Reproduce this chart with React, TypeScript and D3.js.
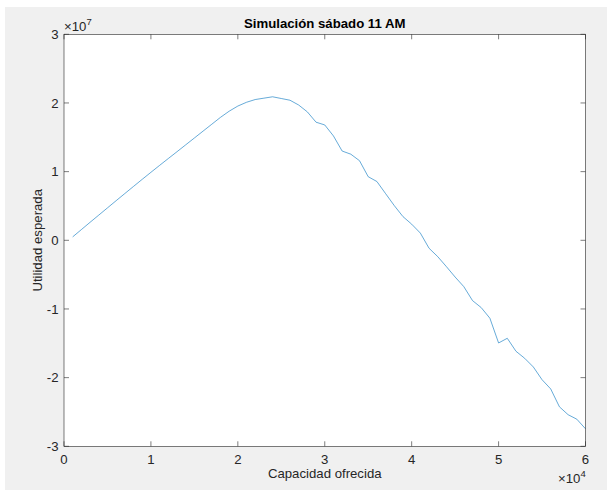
import React from 'react'
import * as d3 from 'd3'

// capacidad ofrecida (x) and utilidad esperada (y, in units of 1e7)
const capacidad = [
  1000, 2000, 3000, 4000, 5000, 6000, 7000, 8000, 9000, 10000,
  11000, 12000, 13000, 14000, 15000, 16000, 17000, 18000, 19000, 20000,
  21000, 22000, 23000, 24000, 25000, 26000, 27000, 28000, 29000, 30000,
  31000, 32000, 33000, 34000, 35000, 36000, 37000, 38000, 39000, 40000,
  41000, 42000, 43000, 44000, 45000, 46000, 47000, 48000, 49000, 50000,
  51000, 52000, 53000, 54000, 55000, 56000, 57000, 58000, 59000, 60000,
]
const utilidad = [
  0.05, 0.156, 0.262, 0.367, 0.472, 0.577, 0.681, 0.785, 0.888, 0.99,
  1.091, 1.191, 1.29, 1.39, 1.49, 1.59, 1.69, 1.79, 1.88, 1.955,
  2.01, 2.05, 2.07, 2.09, 2.065, 2.04, 1.97, 1.87, 1.72, 1.68,
  1.52, 1.3, 1.254, 1.159, 0.926, 0.856, 0.68, 0.505, 0.345, 0.235,
  0.105, -0.116, -0.238, -0.384, -0.535, -0.675, -0.878, -0.98, -1.135, -1.495,
  -1.427, -1.616, -1.718, -1.845, -2.03, -2.165, -2.425, -2.54, -2.605, -2.745,
]
const xTicks = [0, 10000, 20000, 30000, 40000, 50000, 60000]
const yTicks = [-3, -2, -1, 0, 1, 2, 3]

const W = 607
const H = 491
const font = 'Helvetica, Arial, "Liberation Sans", sans-serif'
const axisColor = '#262626'

export default function App() {
  const x = d3.scaleLinear().domain([0, 60000]).range([64, 585.5])
  const y = d3.scaleLinear().domain([-3, 3]).range([446.3, 34.3])
  const [x0, x1] = x.range()
  const [y0, y1] = y.range()
  const tl = 5

  const line = d3.line<number>()
    .x((d, i) => x(capacidad[i]))
    .y(d => y(d))

  return (
    <svg width={W} height={H} style={{ position: 'fixed', left: 0, top: 0, display: 'block' }}>
      <rect x={0} y={0} width={W} height={H} fill="#fff" />
      <rect x={5} y={7} width={W - 5} height={483} fill="#f0f0f0" />
      <rect x={x0} y={y1} width={x1 - x0} height={y0 - y1} fill="#fff" />

      <path d={line(utilidad) || ''} fill="none" stroke="#0072BD" strokeWidth={0.6} />

      {/* ticks on all four sides, pointing in */}
      <g stroke={axisColor} strokeWidth={0.6}>
        {xTicks.map(t => (
          <g key={`xt${t}`}>
            <line x1={x(t)} x2={x(t)} y1={y0} y2={y0 - tl} />
            <line x1={x(t)} x2={x(t)} y1={y1} y2={y1 + tl} />
          </g>
        ))}
        {yTicks.map(t => (
          <g key={`yt${t}`}>
            <line x1={x0} x2={x0 + tl} y1={y(t)} y2={y(t)} />
            <line x1={x1} x2={x1 - tl} y1={y(t)} y2={y(t)} />
          </g>
        ))}
        <rect x={x0} y={y1} width={x1 - x0} height={y0 - y1} fill="none" />
      </g>

      <g fontFamily={font} fontSize={13.2} fill={axisColor}>
        {xTicks.map(t => (
          <text key={`xl${t}`} x={x(t)} y={463.5} textAnchor="middle">{t / 10000}</text>
        ))}
        {yTicks.map(t => (
          <text key={`yl${t}`} x={58.5} y={y(t)} dy="0.35em" textAnchor="end">{t}</text>
        ))}
        <text x={64} y={30.5}>
          ×10<tspan fontSize={9.5} dy={-6}>7</tspan>
        </text>
        <text x={558} y={482.5}>
          ×10<tspan fontSize={9.5} dy={-6}>4</tspan>
        </text>
        <text x={(x0 + x1) / 2} y={477.5} textAnchor="middle">Capacidad ofrecida</text>
        <text transform={`translate(41.5,${(y0 + y1) / 2}) rotate(-90)`} textAnchor="middle">
          Utilidad esperada
        </text>
      </g>

      <text x={(x0 + x1) / 2} y={28.3} textAnchor="middle" fontFamily={font}
        fontSize={13.2} fontWeight="bold" fill="#000">
        Simulación sábado 11 AM
      </text>
    </svg>
  )
}
